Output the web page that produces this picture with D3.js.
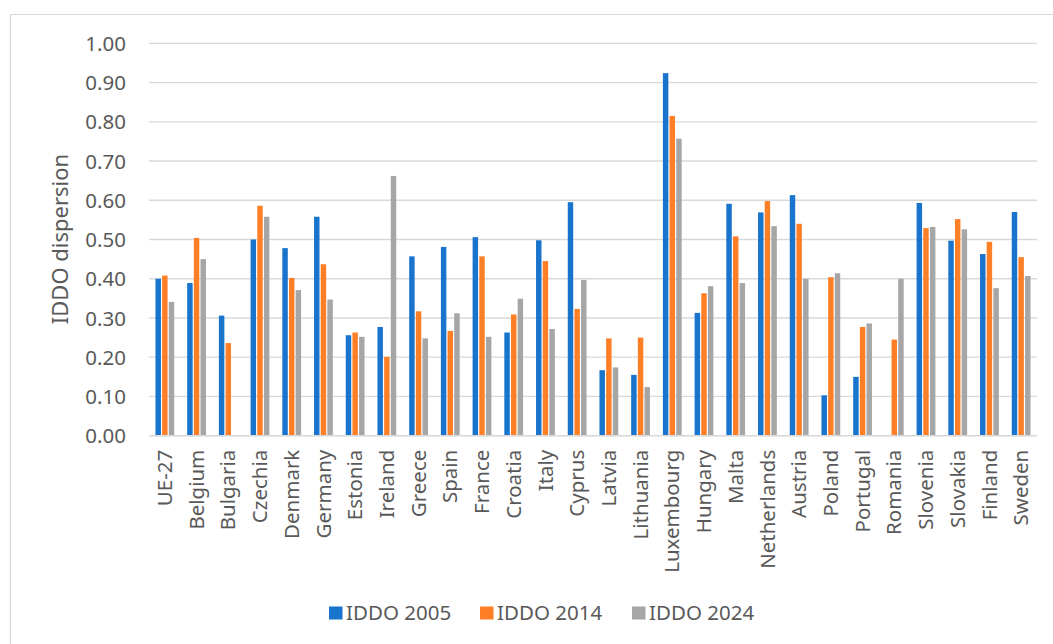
<!DOCTYPE html>
<html>
<head>
<meta charset="utf-8">
<script src="https://cdn.jsdelivr.net/npm/d3@7"></script>
<style>
  html, body { margin: 0; padding: 0; background: #fff; }
  svg { display: block; font-family: "Noto Sans", "Open Sans", sans-serif; }
</style>
</head>
<body>
<svg id="chart" width="1053" height="644"></svg>
<script>
// Countries (EU-27 aggregate first)
const categories = ["UE-27","Belgium","Bulgaria","Czechia","Denmark","Germany","Estonia","Ireland",
  "Greece","Spain","France","Croatia","Italy","Cyprus","Latvia","Lithuania","Luxembourg","Hungary",
  "Malta","Netherlands","Austria","Poland","Portugal","Romania","Slovenia","Slovakia","Finland","Sweden"];

const seriesNames = ["IDDO 2005", "IDDO 2014", "IDDO 2024"];

// Dispersion values per year (null = no data)
const iddo2005 = [0.400,0.389,0.306,0.500,0.478,0.558,0.256,0.277,0.457,0.481,0.506,0.263,0.498,0.595,
  0.167,0.155,0.924,0.313,0.591,0.569,0.613,0.103,0.150,null,0.593,0.497,0.463,0.570];
const iddo2014 = [0.408,0.504,0.236,0.586,0.402,0.437,0.263,0.201,0.317,0.267,0.457,0.309,0.445,0.323,
  0.248,0.250,0.815,0.363,0.508,0.598,0.540,0.404,0.277,0.245,0.529,0.552,0.494,0.455];
const iddo2024 = [0.341,0.450,null,0.558,0.371,0.347,0.252,0.662,0.248,0.312,0.252,0.349,0.272,0.397,
  0.174,0.124,0.757,0.381,0.389,0.534,0.400,0.414,0.286,0.400,0.532,0.526,0.376,0.407];

const yTicks = [0,0.1,0.2,0.3,0.4,0.5,0.6,0.7,0.8,0.9,1.0];
const colors = ["#1874cc", "#ff7f27", "#a6a6a6"];

const seriesValues = [iddo2005, iddo2014, iddo2024];
const svg = d3.select("#chart");
const textColor = "#595959";
const gridColor = "#d9d9d9";

// Chart frame
svg.append("path")
  .attr("d", "M10.5,650 V14.5 H1060")
  .attr("fill", "none").attr("stroke", gridColor).attr("stroke-width", 1.2);

const plot = { left: 149, right: 1037, top: 43.3, bottom: 435.7 };

const x0 = d3.scaleBand().domain(categories).range([plot.left, plot.right]).padding(0);
const step = x0.bandwidth();
const x1 = d3.scaleBand().domain(seriesNames)
  .range([step * 0.185, step * 0.815]).padding(0);
const y = d3.scaleLinear().domain([0, 1]).range([plot.bottom, plot.top]);

// Gridlines
svg.append("g").selectAll("line").data(yTicks).join("line")
  .attr("x1", plot.left).attr("x2", plot.right)
  .attr("y1", d => y(d)).attr("y2", d => y(d))
  .attr("stroke", gridColor).attr("stroke-width", 1.3);

// Y axis labels
const yAxis = d3.axisLeft(y).tickValues(yTicks).tickFormat(d3.format(".2f")).tickSize(0).tickPadding(0);
const yg = svg.append("g").attr("transform", `translate(${126},0)`).call(yAxis);
yg.select(".domain").remove();
yg.selectAll("text").attr("fill", textColor).style("font-size", "20.5px")
  .style("font-family", "'Noto Sans', sans-serif").attr("dy", "0.35em");

// Y axis title
svg.append("text")
  .attr("transform", `translate(68,${239}) rotate(-90)`)
  .attr("text-anchor", "middle")
  .attr("fill", textColor).style("font-size", "22px")
  .text("IDDO dispersion");

// Bars
const rows = categories.map((c, i) => ({ cat: c, vals: seriesNames.map((s, k) => ({ s, k, v: seriesValues[k][i] })) }));
const groups = svg.append("g").selectAll("g").data(rows).join("g")
  .attr("transform", d => `translate(${x0(d.cat)},0)`);
groups.selectAll("rect").data(d => d.vals.filter(o => o.v != null)).join("rect")
  .attr("x", o => x1(o.s) + 0.6)
  .attr("width", x1.bandwidth() - 1.2)
  .attr("y", o => y(o.v))
  .attr("height", o => y(0) - y(o.v))
  .attr("fill", o => colors[o.k]);

// Baseline
svg.append("line")
  .attr("x1", plot.left).attr("x2", plot.right)
  .attr("y1", y(0)).attr("y2", y(0))
  .attr("stroke", gridColor).attr("stroke-width", 1.6);

// Category labels (vertical)
const xAxis = d3.axisBottom(x0).tickSize(0).tickPadding(0);
const xg = svg.append("g").attr("transform", `translate(0,${y(0)})`).call(xAxis);
xg.select(".domain").remove();
xg.selectAll("text")
  .attr("transform", "rotate(-90)")
  .attr("x", -14).attr("y", 0).attr("dy", "0.35em")
  .attr("text-anchor", "end")
  .attr("fill", textColor).style("font-size", "20.5px")
  .style("font-family", "'Noto Sans', sans-serif");

// Legend
const legendX = [329, 480, 632];
const legend = svg.append("g").selectAll("g").data(seriesNames).join("g")
  .attr("transform", (d, i) => `translate(${legendX[i]},${606.5})`);
legend.append("rect").attr("width", 13.5).attr("height", 13).attr("fill", (d, i) => colors[i]);
legend.append("text").attr("x", 17).attr("y", 6.5).attr("dy", "0.36em")
  .attr("fill", textColor).style("font-size", "20.5px").text(d => d);
</script>
</body>
</html>
